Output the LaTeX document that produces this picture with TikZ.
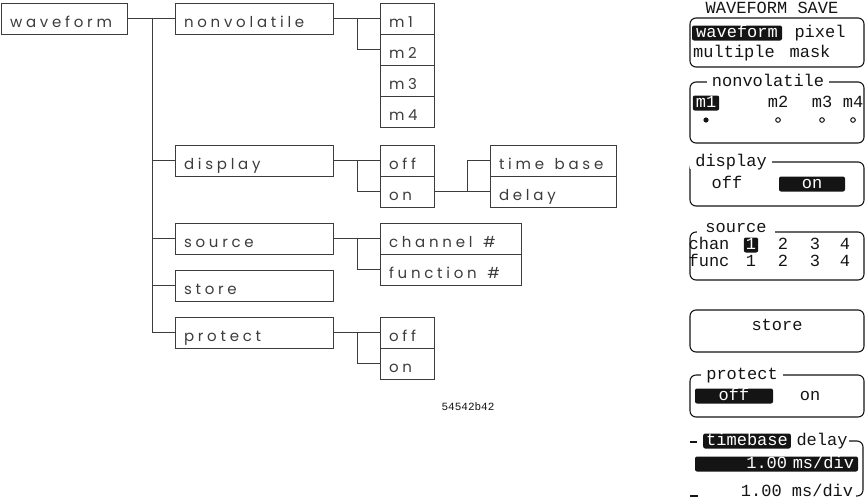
\documentclass[tikz,border=0pt]{standalone}
\usepackage{fontspec}
\usepackage{tikz}
\usetikzlibrary{positioning}
\newfontfamily\plotfont[LetterSpace=25]{Poppins}
\newfontfamily\screenfont{Liberation Mono}
\definecolor{plotgray}{RGB}{60,60,60}
\definecolor{screenink}{RGB}{20,20,20}
\newcommand{\gap}{\hspace{0.7em}}

\begin{document}
\begin{tikzpicture}[
    x=1pt, y=-1pt,
    node distance=0pt,
    menu/.style={rectangle, draw=plotgray, line width=0.8pt, outer sep=0pt,
                 minimum height=31pt, inner xsep=9pt, inner ysep=3pt,
                 text width=#1, align=left, anchor=north west,
                 text height=19pt, text depth=1pt, text=plotgray,
                 font=\plotfont\fontsize{15}{15}\selectfont},
    link/.style={draw=plotgray, line width=0.7pt},
    panel/.style={draw=screenink, line width=1.1pt, rounded corners=6pt},
    scr/.style={font=\screenfont\fontsize{17}{17}\selectfont, text=screenink,
                inner sep=1pt, text height=10pt, text depth=1pt},
    inv/.style={scr, fill=screenink, text=white, rounded corners=2pt,
                inner xsep=3pt, inner ysep=2pt},
    ttl/.style={scr, fill=white, inner xsep=5pt}
]
\useasboundingbox (0,0) rectangle (866,501);

% Menu tree, first level
\node[menu=108pt] (waveform) at (1,3)   {waveform};
\node[menu=140pt] (nonvol)   at (175,3)   {nonvolatile};
\node[menu=140pt] (display)  at (175,145) {display};
\node[menu=140pt] (source)   at (175,223) {source};
\node[menu=140pt] (store)    at (175,270) {store};
\node[menu=140pt] (protect)  at (175,317) {protect};

% Choices
\node[menu=36pt] (m1) at (380,3) {m1};
\node[menu=36pt, below=of m1] (m2) {m2};
\node[menu=36pt, below=of m2] (m3) {m3};
\node[menu=36pt, below=of m3] (m4) {m4};
\node[menu=36pt] (dispoff) at (380,145) {off};
\node[menu=36pt, below=of dispoff] (dispon) {on};
\node[menu=108pt] (tbase) at (490,145) {time\gap base};
\node[menu=108pt, below=of tbase] (delay) {delay};
\node[menu=123pt] (chan) at (380,223) {channel\gap\#};
\node[menu=123pt, below=of chan] (func) {function\gap\#};
\node[menu=36pt] (protoff) at (380,317) {off};
\node[menu=36pt, below=of protoff] (proton) {on};

% Tree lines
\draw[link] (waveform.east) -- (nonvol.west);
\draw[link] ([xshift=-23pt]nonvol.west) |- (display.west);
\draw[link] ([xshift=-23pt]nonvol.west) |- (source.west);
\draw[link] ([xshift=-23pt]nonvol.west) |- (store.west);
\draw[link] ([xshift=-23pt]nonvol.west) |- (protect.west);
\draw[link] (nonvol.east) -- (m1.west);
\draw[link] ([xshift=-23pt]m1.west) |- (m2.west);
\draw[link] (display.east) -- (dispoff.west);
\draw[link] ([xshift=-23pt]dispoff.west) |- (dispon.west);
\draw[link] (dispon.east) -- (delay.west);
\draw[link] ([xshift=-23pt]delay.west) |- (tbase.west);
\draw[link] (source.east) -- (chan.west);
\draw[link] ([xshift=-23pt]chan.west) |- (func.west);
\draw[link] (protect.east) -- (protoff.west);
\draw[link] ([xshift=-23pt]protoff.west) |- (proton.west);

\node[scr, font=\screenfont\fontsize{11}{11}\selectfont] (figno) at (468,406) {54542b42};

% Screen menu, right
\node[scr] (savettl) at (772,9) {WAVEFORM SAVE};
\draw[panel] (690,18) rectangle (864,67);
\node[inv, minimum width=90pt] (savewave) at (737,33) {waveform};
\node[scr] (savepix)  at (820,33) {pixel};
\node[scr] (savemult) at (734,53) {multiple};
\node[scr] (savemask) at (810,53) {mask};

\draw[panel] (690,82) rectangle (864,143);
\node[ttl] (nvttl) at (768,82) {nonvolatile};
\node[inv] (nvm1) at (706,103) {m1};
\node[scr] (nvm2) at (778,103) {m2};
\node[scr] (nvm3) at (822,103) {m3};
\node[scr] (nvm4) at (853,103) {m4};
\fill[screenink] (706,120) circle (2.6pt);
\draw[screenink, line width=1pt] (778,120) circle (2.3pt) (822,120) circle (2.3pt) (853,120) circle (2.3pt);

\draw[panel] (690,162) rectangle (864,206);
\node[ttl] (dpttl) at (731,162) {display};
\node[scr] (dpoff) at (727,184) {off};
\node[inv, minimum width=66pt] (dpon) at (812,184) {on};

\draw[panel] (690,232) rectangle (864,280);
\node[ttl, inner xsep=8pt] (srcttl) at (736,228) {source};
\node[scr] (srcchan) at (709,245) {chan};
\node[inv, inner xsep=2pt] (srcc1) at (751,245) {1};
\node[scr] (srcc2) at (783,245) {2};
\node[scr] (srcc3) at (815,245) {3};
\node[scr] (srcc4) at (845,245) {4};
\node[scr] (srcfunc) at (709,262) {func};
\node[scr] (srcf1) at (751,262) {1};
\node[scr] (srcf2) at (783,262) {2};
\node[scr] (srcf3) at (815,262) {3};
\node[scr] (srcf4) at (845,262) {4};

\draw[panel] (690,310) rectangle (864,352);
\node[scr] (stotxt) at (777,326) {store};

\draw[panel] (690,375) rectangle (864,417);
\node[ttl] (prttl) at (742,375) {protect};
\node[inv, minimum width=78pt] (proff) at (734,396) {off};
\node[scr] (pron) at (810,396) {on};

\draw[panel] (690,442) -- (697,442);
\draw[panel] (690,496) -- (698,496);
\draw[panel] (849,441) -| (863,496) -- (856,496);
\node[inv] (tbtb) at (747,441) {timebase};
\node[scr] (tbdl) at (822,441) {delay};
\node[inv, minimum width=163pt, text width=155pt, align=right] (tbbar) at (776.5,464) {1.00 ms/div};
\node[scr, fill=white] (tbval) at (797,492) {1.00 ms/div};

\end{tikzpicture}
\end{document}
